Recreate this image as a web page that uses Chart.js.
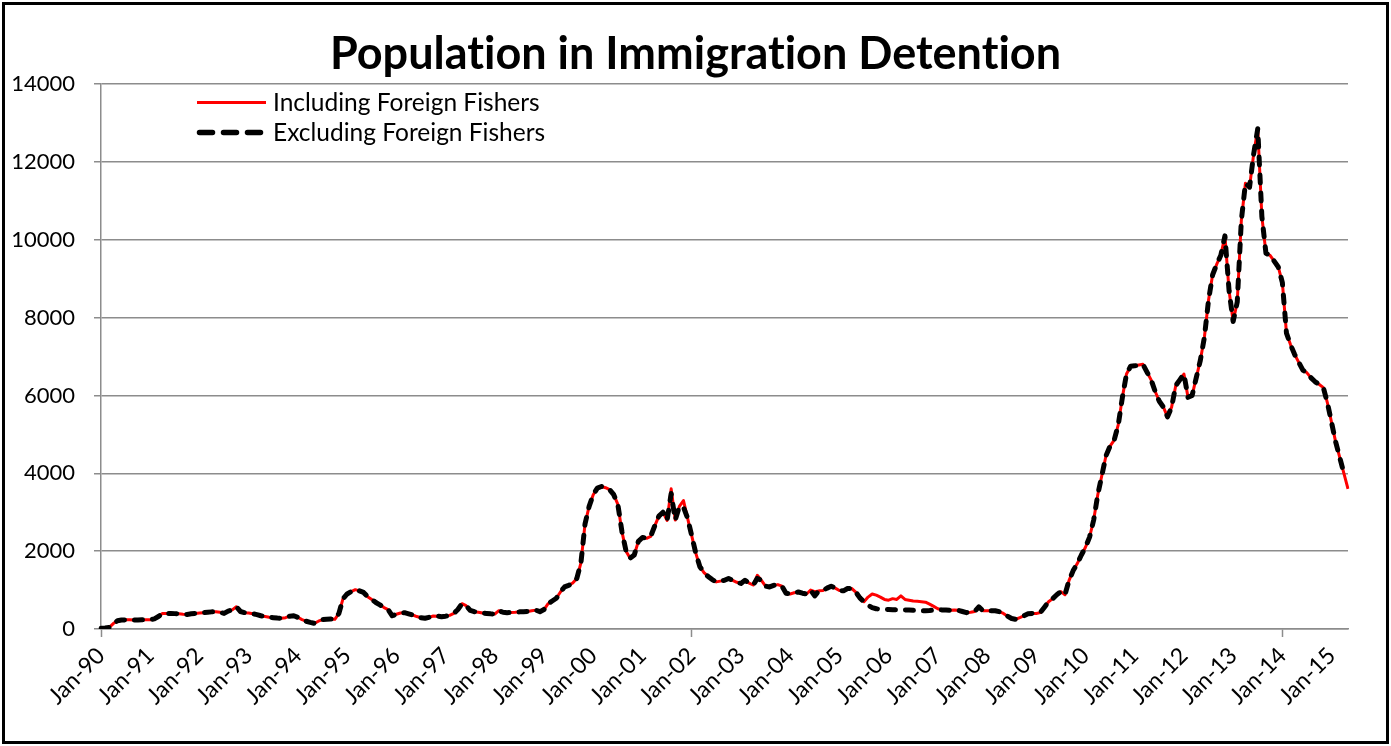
<!DOCTYPE html>
<html>
<head>
<meta charset="utf-8">
<script src="https://cdn.jsdelivr.net/npm/chart.js@4.4.1/dist/chart.umd.min.js"></script>
<style>
html, body { margin: 0; padding: 0; background: #fff; }
#wrap { position: relative; width: 1391px; height: 746px; overflow: hidden; }
#c { position: absolute; left: 0; top: 0; }
#frame { position: absolute; left: 2px; top: 2px; width: 1387px; height: 742px; box-sizing: border-box; border: 3px solid #000; pointer-events: none; }
</style>
</head>
<body>
<div id="wrap">
  <canvas id="c" width="1391" height="746"></canvas>
  <div id="frame"></div>
</div>
<script>
// ---- data ----
const monthNames = ['Jan','Feb','Mar','Apr','May','Jun','Jul','Aug','Sep','Oct','Nov','Dec'];
const yearCodes = ['90','91','92','93','94','95','96','97','98','99','00','01','02','03','04','05','06','07','08','09','10','11','12','13','14','15'];
const lastYearMonths = 5; // Jan-15 .. May-15

const titleText = 'Population in Immigration Detention';
const seriesNames = ['Including Foreign Fishers', 'Excluding Foreign Fishers'];
const yTicks = [0, 2000, 4000, 6000, 8000, 10000, 12000, 14000];

const including = [
  20, 25, 40, 140, 210, 230, 235, 235, 230, 230, 235, 240,            // 1990
  240, 260, 320, 400, 400, 400, 395, 390, 380, 375, 390, 400,         // 1991
  410, 420, 430, 440, 445, 430, 400, 460, 490, 570, 450, 420,         // 1992
  410, 390, 370, 340, 320, 300, 290, 280, 275, 290, 330, 340,         // 1993
  300, 240, 200, 170, 145, 200, 240, 250, 255, 250, 400, 780,         // 1994
  900, 960, 1010, 980, 940, 830, 760, 680, 620, 550, 500, 340,        // 1995
  380, 410, 420, 390, 360, 320, 290, 275, 300, 335, 330, 315,         // 1996
  330, 350, 400, 500, 650, 600, 480, 445, 430, 410, 400, 390,         // 1997
  385, 470, 430, 420, 425, 430, 440, 445, 450, 470, 485, 445,         // 1998
  500, 650, 720, 790, 950, 1080, 1120, 1180, 1300, 1700, 2700, 3150,  // 1999
  3450, 3620, 3660, 3630, 3580, 3450, 3200, 2500, 2000, 1820, 1900, 2250, // 2000
  2350, 2330, 2380, 2650, 2900, 3000, 2790, 3600, 2800, 3150, 3300, 2850, // 2001
  2400, 1950, 1600, 1450, 1350, 1270, 1210, 1230, 1250, 1300, 1250, 1200, // 2002
  1170, 1250, 1180, 1130, 1380, 1250, 1100, 1080, 1120, 1140, 1100, 920,  // 2003
  900, 930, 950, 920, 900, 1000, 960, 980, 990, 1050, 1100, 1050,     // 2004
  990, 980, 1040, 1040, 950, 800, 700, 820, 900, 870, 820, 760,       // 2005
  740, 780, 760, 850, 760, 740, 720, 710, 700, 690, 640, 580,         // 2006
  520, 490, 490, 480, 490, 480, 450, 420, 430, 450, 570, 470,         // 2007
  470, 470, 470, 445, 400, 330, 270, 250, 290, 340, 390, 400,         // 2008
  400, 420, 560, 700, 780, 880, 960, 880, 1250, 1500, 1680, 1900,     // 2009
  2100, 2360, 2800, 3450, 3950, 4450, 4700, 4850, 5250, 5950, 6550, 6750, // 2010
  6760, 6780, 6800, 6600, 6400, 6100, 5850, 5700, 5450, 5700, 6250, 6400, // 2011
  6550, 5950, 6000, 6450, 6900, 7500, 8450, 9100, 9370, 9600, 10100, 8700, // 2012
  7900, 8400, 10500, 11450, 11350, 12200, 12850, 10600, 9650, 9600, 9450, 9300, // 2013
  8900, 7600, 7300, 7050, 6850, 6650, 6580, 6450, 6350, 6280, 6200, 5800, // 2014
  5300, 4800, 4400, 4000, 3600                                        // 2015
];

const excluding = [
  20, 25, 40, 140, 210, 230, 235, 235, 230, 230, 235, 240,            // 1990
  240, 260, 320, 400, 400, 400, 395, 390, 380, 375, 390, 400,         // 1991
  410, 420, 430, 440, 445, 430, 400, 460, 490, 570, 450, 420,         // 1992
  410, 390, 370, 340, 320, 300, 290, 280, 275, 290, 330, 340,         // 1993
  300, 240, 200, 170, 145, 200, 240, 250, 255, 250, 400, 780,         // 1994
  900, 960, 1010, 980, 940, 830, 760, 680, 620, 550, 500, 340,        // 1995
  380, 410, 420, 390, 360, 320, 290, 275, 300, 335, 330, 315,         // 1996
  330, 350, 400, 500, 650, 600, 480, 445, 430, 410, 400, 390,         // 1997
  385, 470, 430, 420, 425, 430, 440, 445, 450, 470, 485, 445,         // 1998
  500, 650, 720, 790, 950, 1080, 1120, 1180, 1300, 1700, 2700, 3150,  // 1999
  3450, 3620, 3660, 3630, 3580, 3450, 3200, 2500, 2000, 1820, 1900, 2250, // 2000
  2350, 2330, 2380, 2650, 2900, 3000, 2790, 3480, 2800, 3150, 3130, 2850, // 2001
  2400, 1950, 1600, 1450, 1350, 1270, 1210, 1230, 1250, 1300, 1250, 1200, // 2002
  1170, 1250, 1180, 1130, 1300, 1250, 1100, 1080, 1120, 1140, 1100, 920,  // 2003
  900, 930, 950, 920, 900, 1000, 850, 980, 990, 1050, 1100, 1050,     // 2004
  990, 980, 1040, 1040, 950, 800, 700, 610, 550, 520, 510, 505,       // 2005
  500, 495, 490, 490, 490, 485, 480, 475, 470, 470, 475, 485,         // 2006
  500, 490, 490, 480, 490, 480, 450, 420, 430, 450, 570, 470,         // 2007
  470, 470, 470, 445, 400, 330, 270, 250, 290, 340, 390, 400,         // 2008
  400, 420, 560, 700, 780, 880, 960, 880, 1250, 1500, 1680, 1900,     // 2009
  2100, 2360, 2800, 3450, 3950, 4450, 4700, 4850, 5250, 5950, 6550, 6750, // 2010
  6760, 6780, 6800, 6600, 6400, 6100, 5850, 5700, 5450, 5700, 6250, 6400, // 2011
  6550, 5950, 6000, 6450, 6900, 7500, 8450, 9100, 9370, 9600, 10100, 8700, // 2012
  7900, 8400, 10500, 11450, 11350, 12200, 12850, 10600, 9650, 9600, 9450, 9300, // 2013
  8900, 7600, 7300, 7050, 6850, 6650, 6580, 6450, 6350, 6280, 6200, 5800, // 2014
  5300, 4800, 4400, 4000, null                                        // 2015
];

// category labels built from the month / year lists
const categories = [];
yearCodes.forEach((yc, yi) => {
  const n = (yi === yearCodes.length - 1) ? lastYearMonths : 12;
  for (let m = 0; m < n; m++) categories.push(monthNames[m] + '-' + yc);
});

// ---- styling ----
const GRID = '#8c8c8c';
const FONT = 'Lato';

const noLigatures = {
  id: 'noLigatures',
  beforeDraw(chart) { try { chart.ctx.textRendering = 'optimizeSpeed'; } catch (e) {} }
};

const insideLegend = {
  id: 'insideLegend',
  afterDatasetsDraw(chart, args, opts) {
    const { ctx, chartArea } = chart;
    const x = chartArea.left + opts.offsetX;
    let y = chartArea.top + opts.offsetY;
    chart.data.datasets.forEach((ds) => {
      ctx.save();
      ctx.strokeStyle = ds.borderColor;
      ctx.lineWidth = ds.legendLineWidth;
      ctx.lineCap = ds.legendCap;
      ctx.setLineDash(ds.legendDash);
      ctx.beginPath();
      ctx.moveTo(x + ds.legendInset, y);
      ctx.lineTo(x + opts.sampleWidth - ds.legendInset, y);
      ctx.stroke();
      ctx.restore();
      ctx.save();
      ctx.fillStyle = '#000';
      ctx.font = opts.fontSize + 'px ' + FONT;
      ctx.textBaseline = 'middle';
      ctx.textAlign = 'left';
      ctx.fillText(ds.label, x + opts.sampleWidth + opts.gap, y + 1);
      ctx.restore();
      y += opts.rowHeight;
    });
  }
};

function draw() {
  Chart.defaults.font.family = FONT;
  Chart.defaults.color = '#000';
  new Chart(document.getElementById('c'), {
    type: 'line',
    data: {
      labels: categories,
      datasets: [
        {
          label: seriesNames[0],
          data: including,
          borderColor: '#ff0000',
          borderWidth: 3,
          borderJoinStyle: 'round',
          pointRadius: 0,
          tension: 0,
          order: 1,
          legendLineWidth: 3, legendCap: 'butt', legendDash: [], legendInset: 0
        },
        {
          label: seriesNames[1],
          data: excluding,
          borderColor: '#000000',
          borderWidth: 5,
          borderDash: [8, 10],
          borderCapStyle: 'round',
          borderJoinStyle: 'round',
          pointRadius: 0,
          tension: 0,
          spanGaps: false,
          order: 0,
          legendLineWidth: 5.5, legendCap: 'round', legendDash: [13, 11], legendInset: 2.5
        }
      ]
    },
    options: {
      responsive: false,
      animation: false,
      layout: { padding: { left: 0, right: 0, top: 0, bottom: 0 } },
      plugins: {
        legend: { display: false },
        tooltip: { enabled: false },
        title: {
          display: true,
          text: titleText,
          color: '#000',
          font: { family: FONT, size: 45, weight: 'bold', lineHeight: 1.2 },
          padding: { top: 27, bottom: 3 }
        },
        insideLegend: { offsetX: 96, offsetY: 18.5, sampleWidth: 69, gap: 7, rowHeight: 30, fontSize: 24.5 }
      },
      scales: {
        x: {
          type: 'category',
          offset: false,
          afterFit: (s) => { s.height = 117; },
          border: { display: true, color: GRID, width: 1.5 },
          grid: {
            drawOnChartArea: false,
            drawTicks: true,
            tickLength: 8,
            tickWidth: 1.5,
            tickColor: (c) => (c.index % 12 === 0 ? GRID : 'rgba(0,0,0,0)')
          },
          ticks: {
            autoSkip: false,
            maxRotation: 45,
            minRotation: 45,
            padding: 5,
            font: { size: 23 },
            color: '#000',
            callback: function (v, i) { return i % 12 === 0 ? categories[i] : null; }
          }
        },
        y: {
          min: yTicks[0],
          max: yTicks[yTicks.length - 1],
          afterFit: (s) => { s.width = 101; },
          afterBuildTicks: (s) => { s.ticks = yTicks.map(v => ({ value: v })); },
          border: { display: true, color: GRID, width: 1.5 },
          grid: { color: GRID, lineWidth: 1.5, tickLength: 7 },
          ticks: { padding: 19, font: { size: 22 }, color: '#000', callback: (v) => String(v) }
        },
        yRight: {
          position: 'right',
          display: true,
          min: 0, max: 1,
          afterFit: (s) => { s.width = 43; },
          border: { display: false },
          grid: { display: false, drawTicks: false },
          ticks: { display: false }
        }
      }
    },
    plugins: [noLigatures, insideLegend]
  });
}

if (document.fonts && document.fonts.load) {
  Promise.all([document.fonts.load('22px Lato'), document.fonts.load('bold 45px Lato')]).then(draw, draw);
} else { draw(); }
</script>
</body>
</html>
